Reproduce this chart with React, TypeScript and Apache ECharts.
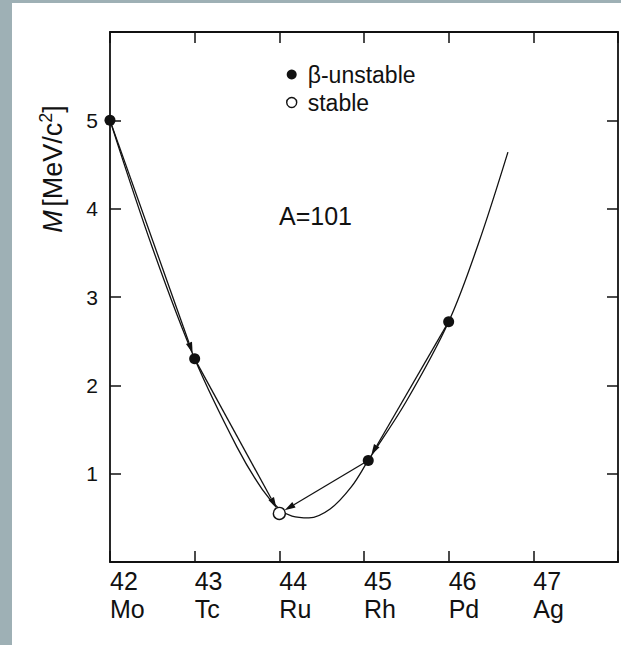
import React, { useEffect, useRef } from "react";
import * as echarts from "echarts";

const FONT = "'Liberation Sans', Arial, Helvetica, sans-serif";

// Nuclei of the A=101 isobar chain: [Z, mass excess (MeV/c^2)]
const elementSymbols: Record<number, string> = { 42: "Mo", 43: "Tc", 44: "Ru", 45: "Rh", 46: "Pd", 47: "Ag" };
const unstablePoints: number[][] = [
  [42, 5.0],
  [43, 2.3],
  [45.05, 1.15],
  [46, 2.72],
];
const stablePoints: number[][] = [[44, 0.55]];

// Mass parabola
const curvePoints: number[][] = [
  [42, 5.0],
  [42.5, 3.56],
  [43, 2.3],
  [43.5, 1.3],
  [43.8, 0.82],
  [44, 0.6],
  [44.15, 0.52],
  [44.35, 0.5],
  [44.6, 0.6],
  [44.85, 0.85],
  [45.05, 1.15],
  [45.5, 1.82],
  [46, 2.72],
  [46.35, 3.6],
  [46.7, 4.64],
];

// beta-decay arrows: [fromZ, fromM, toZ, toM]
const decayArrows: number[][] = [
  [42, 5.0, 43, 2.3],
  [43, 2.3, 44, 0.55],
  [46, 2.72, 45.05, 1.15],
  [45.05, 1.15, 44, 0.55],
];

const xRange = [42, 48];
const yRange = [0, 6];

export default function App() {
  const ref = useRef<HTMLDivElement>(null);
  useEffect(() => {
    if (!ref.current) return;
    const chart = echarts.init(ref.current, undefined, { renderer: "svg" });
    const ink = "#111111";
    const mkAxis = (extra: any) => ({
      type: "value",
      interval: 1,
      axisLine: { show: true, onZero: false, lineStyle: { color: ink, width: 1.8 } },
      axisTick: { show: true, inside: true, length: 11, lineStyle: { color: ink, width: 1.5 } },
      splitLine: { show: false },
      ...extra,
    });
    const renderArrow = (params: any, api: any) => {
      const p1 = api.coord([api.value(0), api.value(1)]);
      const p2 = api.coord([api.value(2), api.value(3)]);
      const dx = p2[0] - p1[0];
      const dy = p2[1] - p1[1];
      const len = Math.sqrt(dx * dx + dy * dy) || 1;
      const ux = dx / len;
      const uy = dy / len;
      const nx = -uy;
      const ny = ux;
      const tipGap = 6;
      const headLen = 11;
      const headHalf = 3.2;
      const tip = [p2[0] - ux * tipGap, p2[1] - uy * tipGap];
      const base = [tip[0] - ux * headLen, tip[1] - uy * headLen];
      return {
        type: "group",
        children: [
          {
            type: "line",
            shape: { x1: p1[0] + ux * 4, y1: p1[1] + uy * 4, x2: base[0], y2: base[1] },
            style: { stroke: ink, lineWidth: 1.3 },
          },
          {
            type: "polygon",
            shape: {
              points: [
                tip,
                [base[0] + nx * headHalf, base[1] + ny * headHalf],
                [base[0] - nx * headHalf, base[1] - ny * headHalf],
              ],
            },
            style: { fill: ink },
          },
        ],
      };
    };
    chart.setOption({
      animation: false,
      backgroundColor: "#ffffff",
      grid: { left: 98, right: 3, top: 29, bottom: 83, containLabel: false },
      xAxis: [
        mkAxis({
          min: xRange[0],
          max: xRange[1],
          position: "bottom",
          axisLabel: {
            show: true,
            align: "left",
            margin: 5,
            fontSize: 25,
            lineHeight: 28,
            fontFamily: FONT,
            color: ink,
            formatter: (v: number) => (elementSymbols[v] ? `${v}\n${elementSymbols[v]}` : ""),
          },
        }),
        mkAxis({
          min: xRange[0],
          max: xRange[1],
          position: "top",
          axisLabel: { show: false },
        }),
      ],
      yAxis: [
        mkAxis({
          min: yRange[0],
          max: yRange[1],
          position: "left",
          axisLabel: {
            show: true,
            margin: 12,
            fontSize: 21,
            fontFamily: FONT,
            color: ink,
            formatter: (v: number) => (v === yRange[0] || v === yRange[1] ? "" : String(v)),
          },
        }),
        mkAxis({
          min: yRange[0],
          max: yRange[1],
          position: "right",
          axisLabel: { show: false },
        }),
      ],
      legend: {
        orient: "vertical",
        left: 269,
        top: 55,
        itemWidth: 10,
        itemHeight: 10,
        itemGap: 5,
        icon: "circle",
        textStyle: { fontSize: 23, fontFamily: FONT, color: ink, padding: [0, 0, 0, 6] },
        data: [
          { name: "β-unstable", itemStyle: { color: ink, borderWidth: 0, opacity: 1 } },
          { name: "stable", itemStyle: { color: "#ffffff", borderColor: ink, borderWidth: 1.4, opacity: 1 } },
        ],
      },
      graphic: [
        {
          type: "text",
          x: 41,
          y: 166,
          rotation: Math.PI / 2,
          style: {
            text: "{i|M} {n|[MeV/c}{s|2}{n|]}",
            align: "center",
            verticalAlign: "middle",
            fill: ink,
            rich: {
              i: { fontSize: 27, fontStyle: "italic", fontFamily: FONT, fill: ink },
              n: { fontSize: 27, fontFamily: FONT, fill: ink },
              s: { fontSize: 18, fontFamily: FONT, fill: ink, verticalAlign: "top", lineHeight: 32 },
            },
          },
        },
        {
          type: "text",
          x: 267,
          y: 213,
          style: {
            text: "A=101",
            fontSize: 25,
            fontFamily: FONT,
            fill: ink,
            align: "left",
            verticalAlign: "middle",
          },
        },
      ],
      series: [
        {
          name: "parabola",
          type: "line",
          data: curvePoints,
          smooth: 0.35,
          showSymbol: false,
          symbol: "none",
          lineStyle: { color: ink, width: 1.3 },
          z: 2,
          silent: true,
        },
        {
          name: "decays",
          type: "custom",
          data: decayArrows,
          renderItem: renderArrow,
          encode: { x: [0, 2], y: [1, 3] },
          z: 3,
          silent: true,
        },
        {
          name: "β-unstable",
          type: "scatter",
          data: unstablePoints,
          symbol: "circle",
          symbolSize: 11,
          itemStyle: { color: ink, opacity: 1 },
          z: 5,
        },
        {
          name: "stable",
          type: "scatter",
          data: stablePoints,
          symbol: "circle",
          symbolSize: 12,
          itemStyle: { color: "#ffffff", borderColor: ink, borderWidth: 1.4, opacity: 1 },
          z: 5,
        },
      ],
    });
    return () => chart.dispose();
  }, []);
  return (
    <div style={{ position: "absolute", left: 0, top: 0, width: 621, height: 645, background: "#9eb0b5" }}>
      <div ref={ref} style={{ position: "absolute", left: 12, top: 3, width: 609, height: 642 }} />
    </div>
  );
}
